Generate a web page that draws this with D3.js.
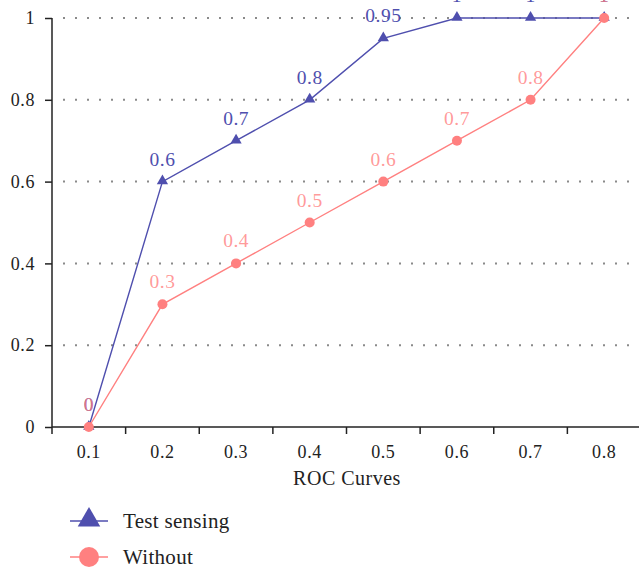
<!DOCTYPE html>
<html>
<head>
<meta charset="utf-8">
<script src="https://cdn.jsdelivr.net/npm/d3@7"></script>
<style>
  html, body { margin: 0; padding: 0; background: #fff; }
  svg { display: block; font-family: "Liberation Serif", "Times New Roman", serif; }
</style>
</head>
<body>
<svg id="chart" width="639" height="570"></svg>
<script>
// ROC comparison: test sensing vs. without
const categories = ["0.1", "0.2", "0.3", "0.4", "0.5", "0.6", "0.7", "0.8"];
const testSensing = [0, 0.6, 0.7, 0.8, 0.95, 1, 1, 1];
const without = [0, 0.3, 0.4, 0.5, 0.6, 0.7, 0.8, 1];
const yTicks = [0, 0.2, 0.4, 0.6, 0.8, 1];
const seriesNames = ["Test sensing", "Without"];

const blue = "#4f4fae";
const red = "#ff8080";
const ink = "#222";
const serif = "Liberation Serif, Times New Roman, serif";

const svg = d3.select("#chart");
const plotLeft = 52, plotRight = 641, plotTop = 18, plotBottom = 427;

const x = d3.scaleBand().domain(categories).range([plotLeft, plotRight]);
const y = d3.scaleLinear().domain([0, 1]).range([plotBottom, plotTop]);

// dotted gridlines
svg.append("g")
  .selectAll("line")
  .data(yTicks.filter(d => d > 0))
  .join("line")
  .attr("x1", 63).attr("x2", 636)
  .attr("y1", d => y(d)).attr("y2", d => y(d))
  .attr("stroke", "#8a8a8a")
  .attr("stroke-width", 2)
  .attr("stroke-dasharray", "2,10");

// x axis: labels centred in bands, ticks on band edges
const xAxis = svg.append("g")
  .attr("transform", `translate(0,${plotBottom})`)
  .call(d3.axisBottom(x).tickSize(0).tickPadding(18));
xAxis.select(".domain").attr("stroke", ink).attr("stroke-width", 1.5)
  .attr("d", `M${plotLeft},0H639`);
xAxis.selectAll("text").attr("font-size", 18).attr("fill", ink)
  .attr("font-family", serif).attr("letter-spacing", 0.6);
svg.append("g")
  .selectAll("line")
  .data(categories)
  .join("line")
  .attr("x1", d => x(d)).attr("x2", d => x(d))
  .attr("y1", plotBottom).attr("y2", plotBottom + 7)
  .attr("stroke", ink).attr("stroke-width", 1.5);

// y axis
const yAxis = svg.append("g")
  .attr("transform", `translate(${plotLeft},0)`)
  .call(d3.axisLeft(y).tickValues(yTicks).tickFormat(d3.format("")).tickSize(7).tickPadding(10));
yAxis.select(".domain").attr("stroke", ink).attr("stroke-width", 1.5)
  .attr("d", `M0,${plotBottom}V${plotTop}`);
yAxis.selectAll(".tick line").attr("stroke", ink).attr("stroke-width", 1.5);
yAxis.selectAll("text").attr("font-size", 18).attr("fill", ink)
  .attr("font-family", serif).attr("letter-spacing", 0.6);

// axis title
svg.append("text")
  .attr("x", 347).attr("y", 485)
  .attr("text-anchor", "middle")
  .attr("font-size", 20).attr("fill", ink)
  .attr("letter-spacing", 0.5)
  .text("ROC Curves");

const cx = d => x(d) + x.bandwidth() / 2;
const line = d3.line().x((d, i) => cx(categories[i])).y(d => y(d));

// Test sensing series
svg.append("path").datum(testSensing)
  .attr("d", line).attr("fill", "none")
  .attr("stroke", blue).attr("stroke-width", 1.4);
svg.append("g").selectAll("path")
  .data(testSensing)
  .join("path")
  .attr("transform", (d, i) => `translate(${cx(categories[i])},${y(d) - 0.5})`)
  .attr("d", d3.symbol().type(d3.symbolTriangle).size(55)())
  .attr("fill", blue);

// Without series
svg.append("path").datum(without)
  .attr("d", line).attr("fill", "none")
  .attr("stroke", red).attr("stroke-width", 1.4);
svg.append("g").selectAll("circle")
  .data(without)
  .join("circle")
  .attr("cx", (d, i) => cx(categories[i]))
  .attr("cy", d => y(d))
  .attr("r", 5)
  .attr("fill", red);

// value labels above each point
function valueLabels(values, color, opacity) {
  svg.append("g").selectAll("text")
    .data(values)
    .join("text")
    .attr("x", (d, i) => cx(categories[i]))
    .attr("y", d => y(d) - 16)
    .attr("text-anchor", "middle")
    .attr("font-size", 19.5)
    .attr("letter-spacing", 0.5)
    .attr("fill", color)
    .attr("fill-opacity", opacity)
    .text(d => d3.format("")(d));
}
valueLabels(testSensing, blue, 1);
valueLabels(without, red, 0.8);

// legend
const legend = svg.append("g");
const legendRows = [
  { name: seriesNames[0], color: blue, y: 521, kind: "triangle" },
  { name: seriesNames[1], color: red, y: 557, kind: "circle" }
];
legendRows.forEach(r => {
  legend.append("line")
    .attr("x1", 70).attr("x2", 108)
    .attr("y1", r.y).attr("y2", r.y)
    .attr("stroke", r.color).attr("stroke-width", 1.4);
  if (r.kind === "triangle") {
    legend.append("path")
      .attr("transform", `translate(89,${r.y - 1})`)
      .attr("d", d3.symbol().type(d3.symbolTriangle).size(220)())
      .attr("fill", r.color);
  } else {
    legend.append("circle")
      .attr("cx", 89).attr("cy", r.y).attr("r", 10)
      .attr("fill", r.color);
  }
  legend.append("text")
    .attr("x", 123).attr("y", r.y + 6.5)
    .attr("font-size", 21).attr("fill", ink)
    .attr("letter-spacing", 0.3)
    .text(r.name);
});
</script>
</body>
</html>
